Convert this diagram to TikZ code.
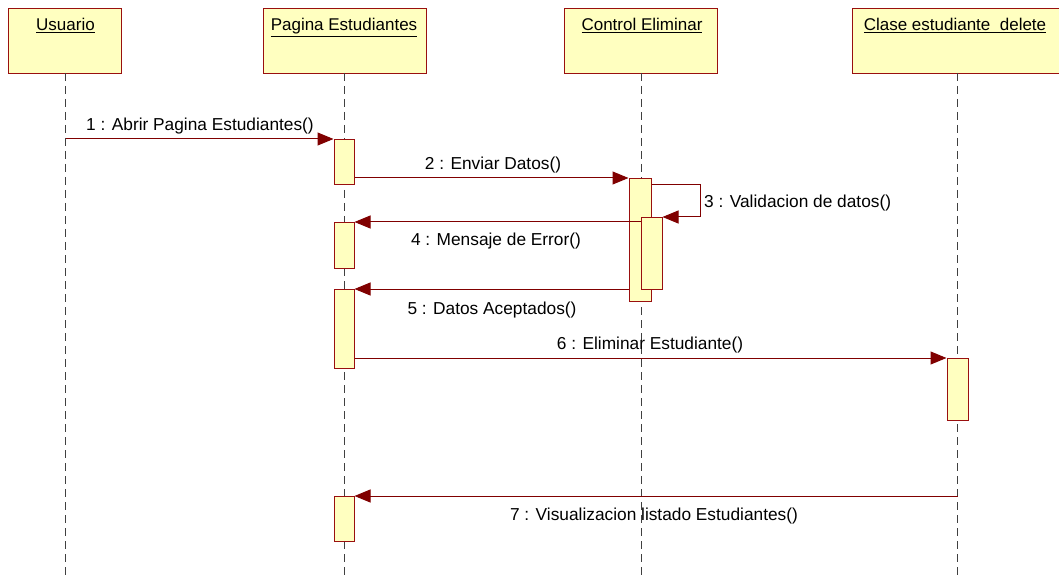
\documentclass[tikz,border=0pt]{standalone}
\usepackage{fontspec}
\setmainfont{Liberation Sans}
\usetikzlibrary{arrows.meta}
\definecolor{boxfill}{HTML}{FFFFC0}
\definecolor{boxline}{HTML}{990F0F}
\definecolor{msgcol}{HTML}{800000}
\definecolor{lifecol}{HTML}{404040}
\tikzset{
  head/.style={draw=boxline, fill=boxfill, line width=1pt, anchor=north west, inner sep=0pt},
  headtxt/.style={anchor=base, inner sep=0pt, font=\fontsize{17}{19}\selectfont},
  lifeline/.style={draw=lifecol, line width=1pt, dash pattern=on 8pt off 5pt},
  actbox/.style={draw=boxline, fill=boxfill, line width=1pt, anchor=north, inner sep=0pt},
  msg/.style={draw=msgcol, line width=1pt, -{Triangle[length=16pt,width=13pt,fill=msgcol]}},
  msglabel/.style={anchor=base, inner sep=0pt, font=\fontsize{17.3}{19}\selectfont}
}
\begin{document}
\begin{tikzpicture}[x=1pt,y=-1pt]
\useasboundingbox (0,0) rectangle (1059,577);
% header boxes
\node[head, minimum width=113pt, minimum height=65pt] (usr) at (8,8) {};
\node[head, minimum width=163pt, minimum height=65pt] (pag) at (263,8) {};
\node[head, minimum width=153pt, minimum height=65pt] (ctl) at (564,8) {};
\node[head, minimum width=212pt, minimum height=65pt] (cls) at (852,8) {};
\node[headtxt] (usrt) at (65.5,31) {\underline{Usuario}};
\node[headtxt] (pagt) at (344,31) {\underline{Pagina Estudiantes}};
\node[headtxt] (ctlt) at (642,31) {\underline{Control Eliminar}};
\node[headtxt] (clst) at (955,31) {\underline{Clase estudiante\ \ delete}};
% lifeline ends
\coordinate (usrE) at (65.5,577);
\coordinate (pagE) at (344,577);
\coordinate (ctlE) at (641,577);
\coordinate (clsE) at (957.5,577);
\coordinate (usrS) at (65.5,73);
\coordinate (pagS) at (344,73);
\coordinate (ctlS) at (641,73);
\coordinate (clsS) at (957.5,73);
\draw[lifeline] (usrS) -- (usrE);
\draw[lifeline] (pagS) -- (pagE);
\draw[lifeline] (ctlS) -- (ctlE);
\draw[lifeline] (clsS) -- (clsE);
% activations
\node[actbox, minimum width=20pt, minimum height=45pt] (p1) at (344,139) {};
\node[actbox, minimum width=20pt, minimum height=46pt] (p2) at (344,222) {};
\node[actbox, minimum width=20pt, minimum height=79pt] (p3) at (344,289) {};
\node[actbox, minimum width=20pt, minimum height=45pt] (p4) at (344,496) {};
\node[actbox, minimum width=22pt, minimum height=123pt] (c1) at (640,178) {};
\node[actbox, minimum width=21pt, minimum height=72pt] (c2) at (651.5,217) {};
\node[actbox, minimum width=21pt, minimum height=62pt] (k1) at (957.5,358) {};
% message 1
\coordinate (m1s) at (65.5,139);
\draw[msg] (m1s) -- (p1.north west);
\node[msglabel] (l1) at (200,131) {1 : Abrir Pagina Estudiantes()};
% message 2
\draw[msg] (p1.east |- c1.north) -- (c1.north west);
\node[msglabel] (l2) at (493,170) {2 : Enviar Datos()};
% message 3 (self)
\coordinate (m3a) at (700,185);
\coordinate (m3b) at (700,217);
\draw[msg] (c1.east |- m3a) -- (m3a) -- (m3b) -- (c2.north east);
\node[msglabel, anchor=base west] (l3) at (704,208) {3 : Validacion de datos()};
% message 4
\draw[msg] (c2.west |- p2.north) -- (p2.north east);
\node[msglabel] (l4) at (496,246) {4 : Mensaje de Error()};
% message 5
\draw[msg] (c1.west |- p3.north) -- (p3.north east);
\node[msglabel] (l5) at (492,314) {5 : Datos Aceptados()};
% message 6
\draw[msg] (p3.east |- k1.north) -- (k1.north west);
\node[msglabel] (l6) at (650,349) {6 : Eliminar Estudiante()};
% message 7
\coordinate (m7s) at (957.5,496);
\draw[msg] (m7s) -- (p4.north east);
\node[msglabel] (l7) at (654,520) {7 : Visualizacion listado Estudiantes()};
\end{tikzpicture}
\end{document}
